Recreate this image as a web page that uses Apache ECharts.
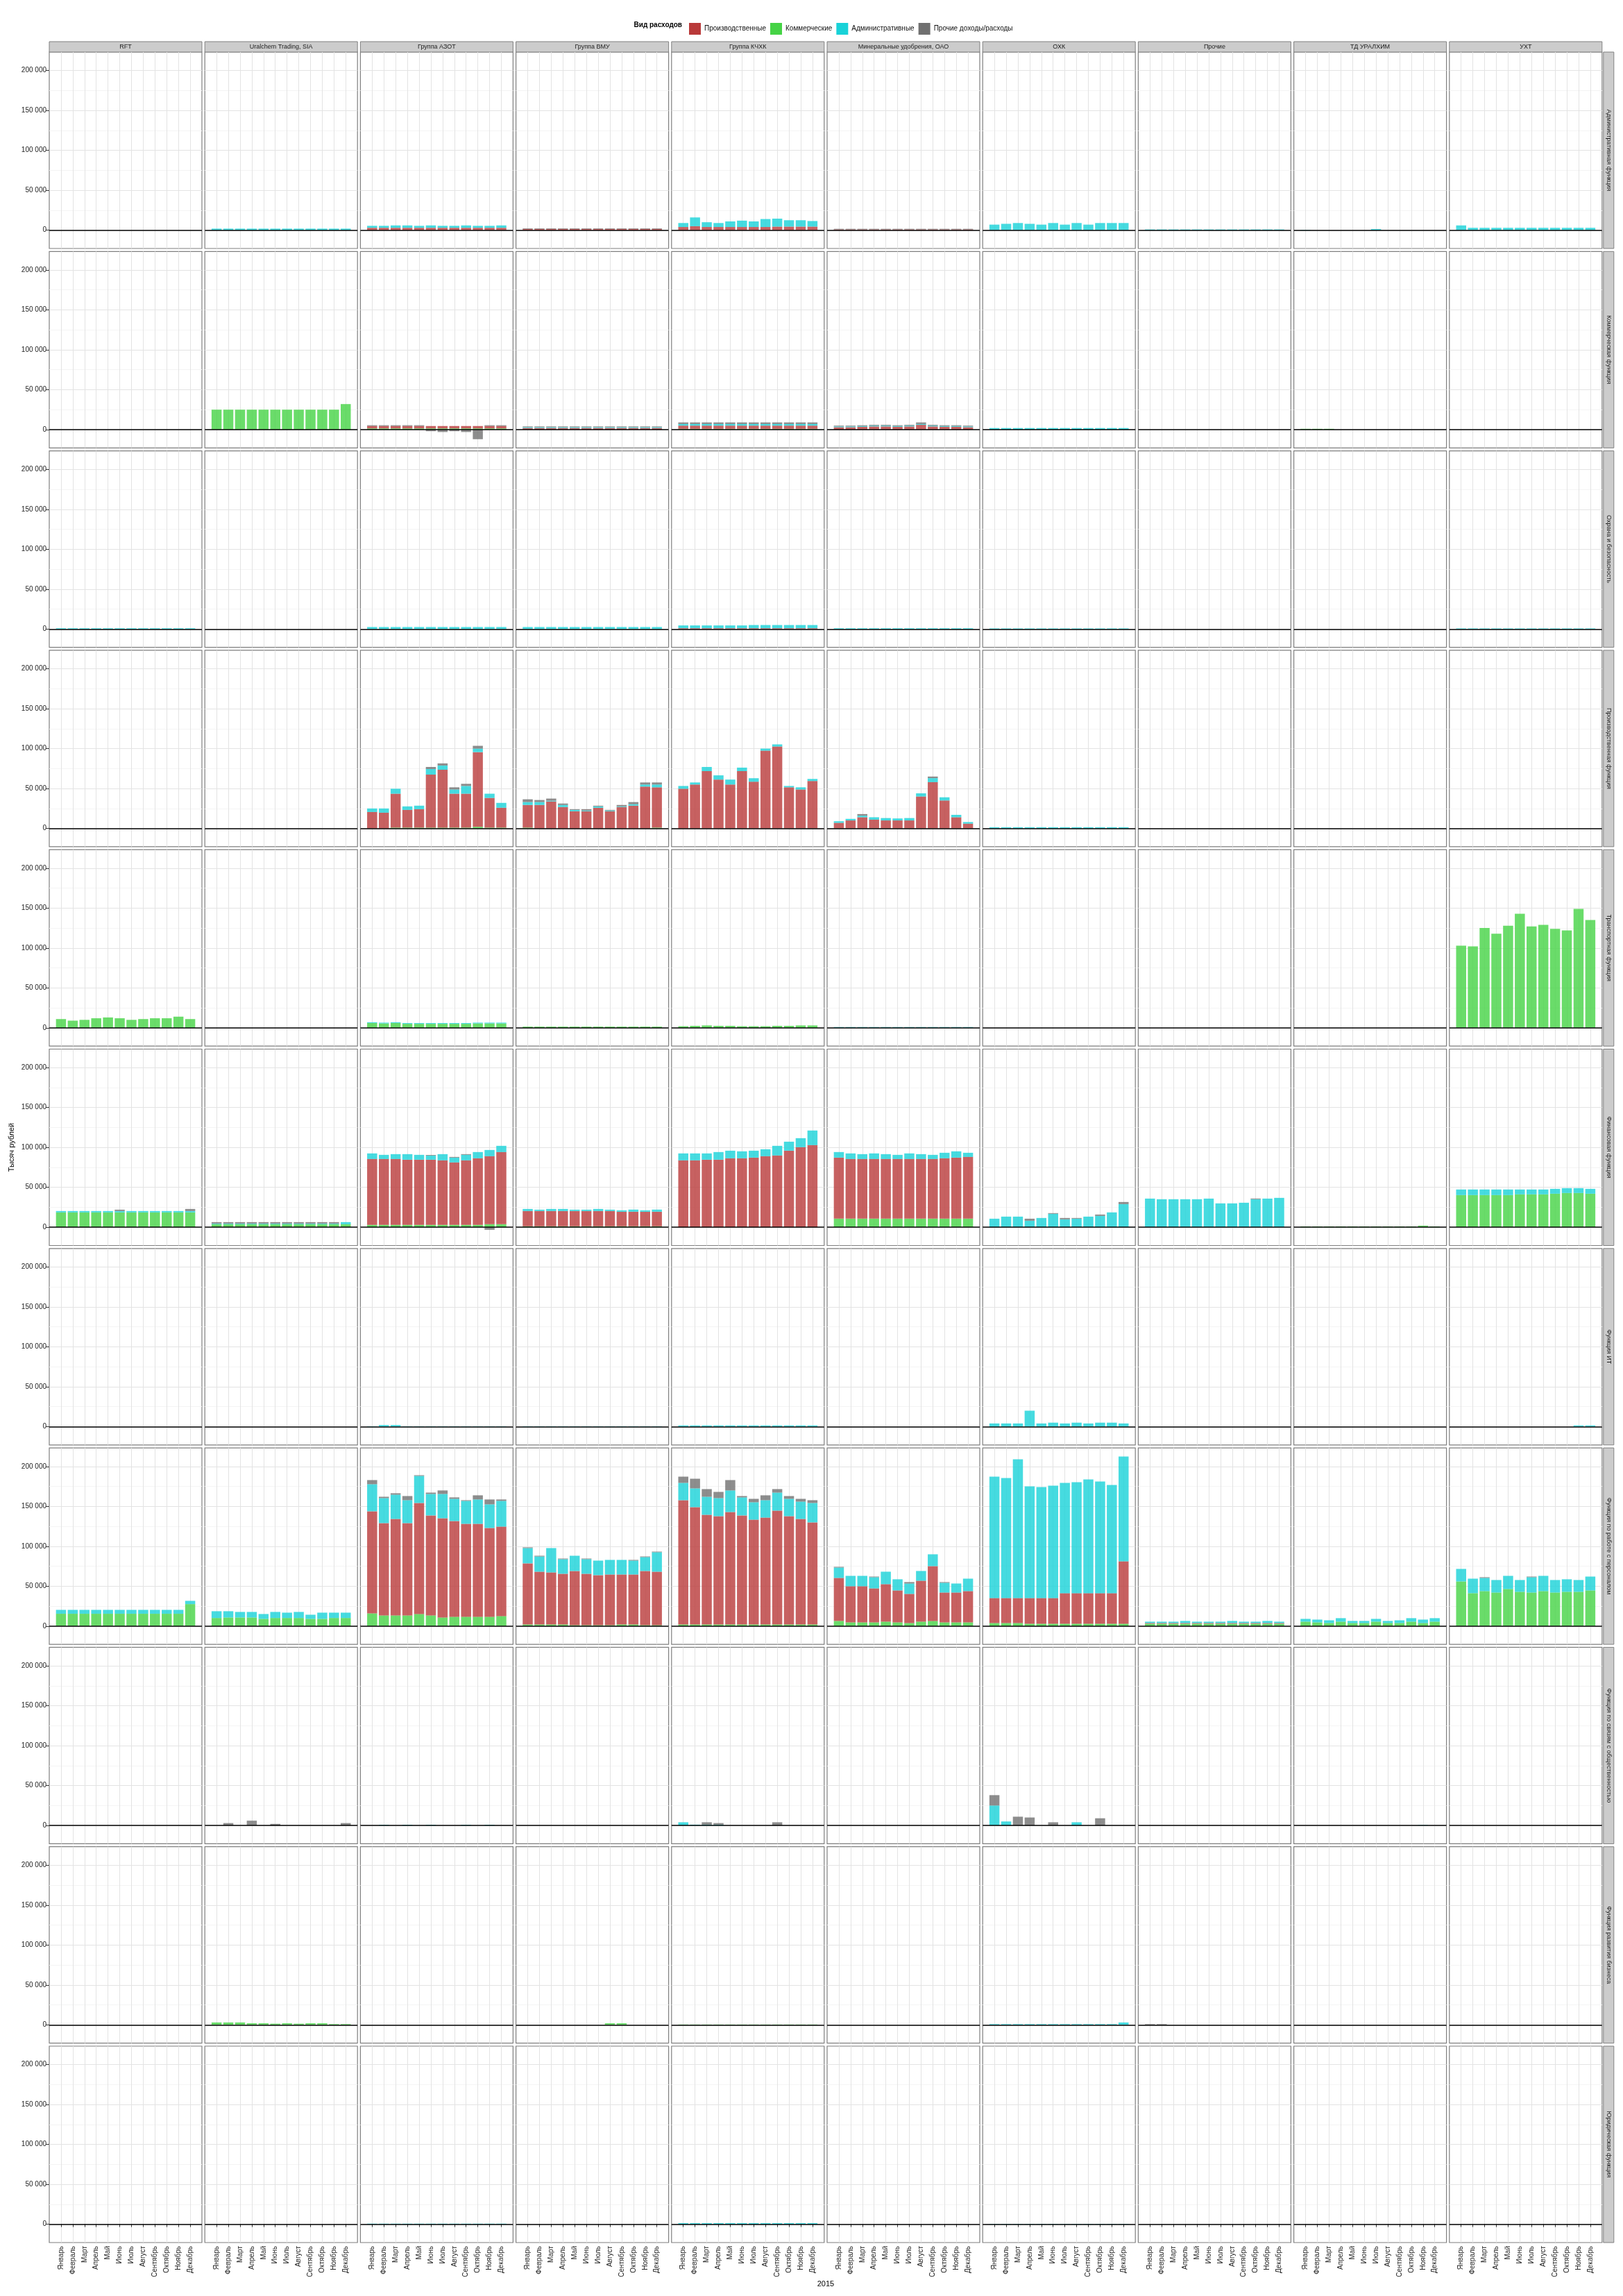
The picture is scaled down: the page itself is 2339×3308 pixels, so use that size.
<!DOCTYPE html>
<html><head><meta charset="utf-8">
<script src="https://cdn.jsdelivr.net/npm/echarts@6/dist/echarts.min.js"></script>
<style>html,body{margin:0;padding:0;background:#fff}#c{width:2339px;height:3308px}</style>
</head><body><div id="c"></div>
<script>
const months = ["Январь","Февраль","Март","Апрель","Май","Июнь","Июль","Август","Сентябрь","Октябрь","Ноябрь","Декабрь"];
const companies = ["RFT","Uralchem Trading, SIA","Группа АЗОТ","Группа ВМУ","Группа КЧХК","Минеральные удобрения, ОАО","ОХК","Прочие","ТД УРАЛХИМ","УХТ"];
const functions = ["Административная функция","Коммерческая функция","Охрана и безопасность","Производственная функция","Транспортная функция","Финансовая функция","Функция ИТ","Функция по работе с персоналом","Функция по связям с общественностью","Функция развития бизнеса","Юридическая функция"];
const expenseTypes = ["Производственные","Коммерческие","Административные","Прочие доходы/расходы"];
const yTicks = [0, 50000, 100000, 150000, 200000];
const yMinorTicks = [25000, 75000, 125000, 175000];
const legendTitle = "Вид расходов";
const yTitle = "Тысяч рублей";
const xTitle = "2015";

// keys: r = Производственные, g = Коммерческие, c = Административные, p = Прочие доходы/расходы
const fAdmin = {
  "Uralchem Trading, SIA": { c: [2000,2000,2000,2000,2000,2000,2000,2000,2000,2000,2000,2000] },
  "Группа АЗОТ": { r: [3000,3000,3000,3000,3000,3000,3000,3000,3000,3000,3000,3000], c: [2500,2500,3000,3000,2500,3000,2500,2500,3000,2500,2500,3000] },
  "Группа ВМУ": { r: [1500,1500,1500,1500,1500,1500,1500,1500,1500,1500,1500,1500], p: [800,800,800,800,800,800,800,800,800,800,800,800] },
  "Группа КЧХК": { r: [4000,5000,4000,4000,4000,4000,4000,4000,4500,4500,4500,4500], c: [5000,11000,6000,5000,7000,8000,7000,10000,10000,8000,8000,7000] },
  "Минеральные удобрения, ОАО": { r: [1000,1000,1000,1000,1000,1000,1000,1000,1000,1000,1000,1000], p: [800,800,800,800,800,800,800,800,800,800,800,800] },
  "ОХК": { c: [7000,8000,9000,8000,7000,9000,7000,9000,7000,9000,9000,9000] },
  "Прочие": { c: [1000,1000,1000,1000,1000,1000,1000,1000,1000,1000,1000,1000] },
  "ТД УРАЛХИМ": { c: [500,0,0,0,0,0,1500,0,0,0,0,0] },
  "УХТ": { c: [6000,3000,3000,3000,3000,3000,3000,3000,3000,3000,3000,3000] }
};
const fCommercial = {
  "Uralchem Trading, SIA": { g: [25000,25000,25000,25000,25000,25000,25000,25000,25000,25000,25000,32000] },
  "Группа АЗОТ": { g: [1500,1500,1500,1500,1500,1500,1500,1500,1500,1500,1500,1500], r: [3000,3000,3000,3000,3000,3000,3000,3000,3000,3000,3000,3000], p: [1000,1000,1000,1000,1000,-2000,-3000,-2000,-3000,-12000,1000,1000] },
  "Группа ВМУ": { r: [2000,2000,2000,2000,2000,2000,2000,2000,2000,2000,2000,2000], c: [1000,1000,1000,1000,1000,1000,1000,1000,1000,1000,1000,1000], p: [1000,1000,1000,1000,1000,1000,1000,1000,1000,1000,1000,1000] },
  "Группа КЧХК": { g: [1000,1000,1000,1000,1000,1000,1000,1000,1000,1000,1000,1000], r: [4000,4000,4000,4000,4000,4000,4000,4000,4000,4000,4000,4000], c: [2000,2000,2000,2000,2000,2000,2000,2000,2000,2000,2000,2000], p: [2000,2000,2000,2000,2000,2000,2000,2000,2000,2000,2000,2000] },
  "Минеральные удобрения, ОАО": { r: [3000,3000,3500,4000,4000,3500,4000,6000,4000,3500,3500,3000], c: [1000,1000,1000,1000,1000,1000,1000,1000,1000,1000,1000,1000], p: [1000,1000,1000,1000,1000,1000,1000,2000,1000,1000,1000,1000] },
  "ОХК": { c: [2000,2000,2000,2000,2000,2000,2000,2000,2000,2000,2000,2000] },
  "ТД УРАЛХИМ": { g: [1000,1000,1000,0,0,0,0,0,0,0,0,0] }
};
const fSecurity = {
  "RFT": { c: [1000,1000,1000,1000,1000,1000,1000,1000,1000,1000,1000,1000] },
  "Группа АЗОТ": { c: [2500,2500,2500,2500,2500,2500,2500,2500,2500,2500,2500,2500] },
  "Группа ВМУ": { c: [2500,2500,2500,2500,2500,2500,2500,2500,2500,2500,2500,2500] },
  "Группа КЧХК": { r: [1000,1000,1000,1000,1000,1000,1000,1000,1000,1000,1000,1000], c: [3500,3500,3500,3500,3500,3500,4000,4000,4000,4000,4000,4000] },
  "Минеральные удобрения, ОАО": { c: [1000,1000,1000,1000,1000,1000,1000,1000,1000,1000,1000,1000] },
  "ОХК": { c: [800,800,800,800,800,800,800,800,800,800,800,800] },
  "УХТ": { c: [800,800,800,800,800,800,800,800,800,800,800,800] }
};
const fProduction = {
  "Группа АЗОТ": { g: [0,0,1000,1000,1000,1000,1000,1000,1000,2000,1000,1000], r: [20600,19700,42500,22200,23100,66400,72500,42500,42500,93600,37200,24900], c: [4400,5300,6200,4400,4400,7000,5300,5300,9700,4400,5300,6100], p: [0,0,0,0,0,2600,2700,2700,2700,3500,0,0] },
  "Группа ВМУ": { g: [1000,0,0,0,0,0,0,0,0,0,0,1000], r: [28400,29400,33800,26800,21500,21500,25900,21500,26800,28500,52400,50500], c: [3600,3600,900,2600,1700,900,1700,900,800,1800,2600,3500], p: [3500,2600,2700,1800,900,1700,900,800,1800,2700,2600,2600] },
  "Группа КЧХК": { r: [49700,55000,71800,61200,55000,71800,58500,97400,102600,51500,48800,59400], c: [3500,2600,5200,5300,6200,4400,4400,2600,2700,1700,2700,2600] },
  "Минеральные удобрения, ОАО": { r: [7000,10000,14000,11000,10000,10000,10000,40000,58000,35000,14000,6000], c: [2000,2000,2000,3000,3000,2500,3000,4000,5000,4000,3000,2000], p: [0,0,2000,0,0,0,0,0,2000,0,0,0] },
  "ОХК": { c: [1500,1500,1500,1500,1500,1500,1500,1500,1500,1500,1500,1500] }
};
const fTransport = {
  "RFT": { g: [11000,9000,10000,12000,13000,12000,10000,11000,12000,12000,14000,11000] },
  "Группа АЗОТ": { g: [6000,5500,6000,5000,5000,5000,5000,5000,5000,5500,5500,5500], c: [1000,1000,1000,1000,1000,1000,1000,1000,1000,1000,1000,1000] },
  "Группа ВМУ": { g: [1500,1500,1500,1500,1500,1500,1500,1500,1500,1500,1500,1500] },
  "Группа КЧХК": { g: [2000,2500,3000,2500,2500,2000,2000,2000,2500,2500,3000,3000] },
  "Минеральные удобрения, ОАО": { c: [1000,1000,1000,1000,1000,1000,1000,1000,1000,1000,1000,1000] },
  "УХТ": { g: [103000,102000,125000,118000,128000,143000,127000,129000,124000,122000,149000,135000] }
};
const fFinance = {
  "RFT": { g: [18600,18600,18600,18600,18600,18600,18600,18600,18600,18600,18600,18600], c: [1700,1700,1700,1700,1700,1700,1700,1700,1700,1700,1700,1700], p: [0,0,0,0,0,1700,0,0,0,0,0,2600] },
  "Uralchem Trading, SIA": { g: [3800,3800,3800,3800,3800,3800,3800,3800,3800,3800,3800,3800], c: [800,800,800,800,800,800,800,800,800,800,800,2600], p: [1800,1800,1800,1800,1800,1800,1800,1800,1800,1800,1800,0] },
  "Группа АЗОТ": { g: [2900,2900,2900,2900,2900,2900,2900,2900,2900,2900,3800,3800], r: [82600,82600,82600,81700,81700,81700,80900,78300,80900,83500,85200,90400], c: [7000,5200,6100,7000,6100,5200,7800,6000,6900,7800,7800,7800], p: [0,0,0,0,0,800,0,900,900,0,-3200,0] },
  "Группа ВМУ": { g: [1200,1200,1200,1200,1200,1200,1200,1200,1200,1200,1200,1200], r: [19100,19100,19100,19100,19100,19100,19100,19100,18200,18200,18200,18200], c: [2600,1700,2600,2600,1700,1700,2600,1700,1800,2700,1800,2700] },
  "Группа КЧХК": { r: [83800,83800,84600,84600,86400,86400,87200,89000,89900,95900,100300,102900], c: [8700,8700,7900,9600,9500,8700,8700,8700,12100,11300,11300,18300] },
  "Минеральные удобрения, ОАО": { g: [10700,10700,10700,10700,10700,10700,10700,10700,10700,10700,10700,10700], r: [76500,74800,74800,74800,74800,74800,74800,74800,74800,75700,76500,77400], c: [7000,7000,6100,7000,6100,5200,7000,6100,5200,6900,7900,5200] },
  "ОХК": { c: [10700,13300,13300,8100,11600,16800,9900,10700,13300,14200,18600,29000], p: [0,0,0,2600,0,900,1700,900,0,1700,0,2600] },
  "Прочие": { c: [35900,35100,35100,35100,35100,35900,29900,29900,30700,35100,35900,36800], p: [0,0,0,0,0,0,0,0,0,900,0,0] },
  "ТД УРАЛХИМ": { g: [1000,1000,1000,1000,1000,1000,1000,1000,1000,1000,2000,1000] },
  "УХТ": { g: [40300,40300,40300,40300,40300,41200,41200,41200,42000,42900,42900,42000], c: [7000,7000,7000,7000,7000,6100,6100,6100,6100,6100,6100,6100] }
};
const fIT = {
  "Группа АЗОТ": { c: [500,2000,2000,500,500,500,500,500,500,500,500,500] },
  "Группа ВМУ": { c: [500,500,500,500,500,500,500,500,500,500,500,500] },
  "Группа КЧХК": { c: [1500,1500,1500,1500,1500,1500,1500,1500,1500,1500,1500,1500] },
  "ОХК": { c: [4000,4000,4000,20000,4000,5000,4000,5000,4000,5000,5000,4000] },
  "УХТ": { c: [0,0,0,0,0,0,0,0,0,0,1500,1500] }
};
const fPersonnel = {
  "RFT": { g: [15400,15400,15400,15400,15400,15400,15400,15400,15400,15400,15400,27500], c: [4900,4900,4900,4900,4900,4900,4900,4900,4900,4900,4900,4100] },
  "Uralchem Trading, SIA": { g: [10100,10700,10700,10700,9000,10100,10100,10100,9000,9000,10100,10100], c: [8500,7900,7000,7000,6100,7600,6700,7600,5200,7800,6700,6700] },
  "Группа АЗОТ": { g: [15900,13300,13300,13300,15100,13300,10700,11600,11600,11600,11600,12500], r: [127900,115700,120900,115700,139100,125300,124400,120000,116500,116500,111300,112100], c: [33900,31300,30400,28700,33900,26900,30400,27800,28700,30500,29600,32200], p: [5200,1700,1800,5200,900,1700,4400,1800,900,5200,6100,1800] },
  "Группа ВМУ": { g: [2000,2000,2000,2000,1200,1200,1200,1200,2000,2000,1200,1200], r: [76600,66100,65200,63500,67800,64300,62600,63400,62600,62600,67800,66900], c: [19100,19100,30500,18300,19100,18300,18200,18300,18300,17400,17400,24400], p: [900,900,0,800,0,800,0,0,0,900,800,800] },
  "Группа КЧХК": { g: [2000,2000,2000,2000,2000,2000,2000,2000,2000,2000,2000,2000], r: [155700,147000,137400,135700,140900,136600,131300,133900,142600,135700,132200,127900], c: [21700,23500,22600,22600,27000,22600,21800,21800,22600,21700,21700,24300], p: [7800,12100,9600,7800,13000,1700,4300,6100,4400,3500,3500,3500] },
  "Минеральные удобрения, ОАО": { g: [6400,4600,4600,4600,5500,4600,3800,5500,6400,4600,4600,4600], r: [53900,45300,45300,42600,47000,40000,36500,51300,68700,37400,37400,39200], c: [13000,13000,13000,14000,15600,14000,13000,12200,14800,12200,11300,15600], p: [900,0,0,800,0,0,1800,0,0,900,0,0] },
  "ОХК": { g: [3800,3800,3800,2900,2900,2900,2900,2900,2900,2900,2900,2900], r: [31300,31300,31300,32200,32200,32200,38300,38300,38300,38300,38300,78300], c: [152100,150400,173900,140000,139100,140800,138200,139100,142600,140000,135600,131300] },
  "Прочие": { g: [2900,2900,2900,2900,2900,2900,2900,2900,2900,2900,2900,2900], r: [900,900,900,900,900,900,900,900,900,900,900,900], c: [1700,1700,1700,2600,1700,1700,1700,2600,1700,1700,2600,1700] },
  "ТД УРАЛХИМ": { g: [5500,4600,3800,5500,3800,3800,5500,3800,3800,5500,3800,5500], c: [3500,3500,3400,4400,2600,2600,3500,2600,3400,4400,4300,4400] },
  "УХТ": { g: [55900,41200,43800,42000,46400,42900,42000,43800,42000,42900,42900,44600], c: [15700,18200,16500,15700,16500,14800,19200,19100,15700,15700,14800,17400], p: [0,0,900,0,0,0,800,0,0,0,0,0] }
};
const fPR = {
  "Uralchem Trading, SIA": { p: [0,3000,0,6000,0,2000,0,0,0,0,0,3000] },
  "Группа АЗОТ": { c: [0,800,0,800,0,800,0,0,800,0,800,0] },
  "Группа КЧХК": { c: [4000,1000,1000,1000,0,0,0,0,0,0,0,0], p: [0,0,3000,2000,0,0,0,0,4000,0,0,0] },
  "ОХК": { c: [25000,5000,0,0,0,0,0,4000,0,0,0,0], p: [13000,0,11000,10000,0,4000,0,0,0,9000,0,0] },
  "ТД УРАЛХИМ": { c: [0,0,0,0,0,0,0,0,0,0,500,0] }
};
const fBD = {
  "Uralchem Trading, SIA": { g: [3000,3000,3000,2000,2000,1500,2000,1500,2000,2000,1000,1000] },
  "Группа ВМУ": { g: [0,0,0,0,0,0,0,2000,2000,0,0,0] },
  "Группа КЧХК": { g: [500,500,500,500,500,500,500,500,500,500,500,500] },
  "ОХК": { c: [1000,1000,1000,1000,1000,1000,1000,1000,1000,1000,1000,3000] },
  "Прочие": { p: [1000,1000,0,0,0,0,0,0,0,0,0,0] }
};
const fLegal = {
  "Группа АЗОТ": { c: [800,800,800,800,800,800,800,800,800,800,800,800] },
  "Группа КЧХК": { c: [1500,1500,1500,1500,1500,1500,1500,1500,1500,1500,1500,1500] },
  "ОХК": { c: [500,500,500,500,500,500,500,500,500,500,500,500] }
};
const functionData = [fAdmin, fCommercial, fSecurity, fProduction, fTransport, fFinance, fIT, fPersonnel, fPR, fBD, fLegal];

const FONT = "'Liberation Sans', Arial, sans-serif";
const barColors = { r: '#B93939', g: '#45D345', c: '#18D2D8', p: '#707070' };
const stackOrder = [['g', 1], ['r', 0], ['c', 2], ['p', 3]];
const L0 = 71, T0 = 75, PX = 224.2, PY = 287.3, W = 220, H = 283;
const Y_MIN = -22900, Y_MAX = 223200;
const fmt = v => String(v).replace(/\B(?=(\d{3})+(?!\d))/g, ' ');
const pad = a => { const out = [null]; for (let i = 0; i < 12; i++) out.push(a && a[i] ? a[i] : null); out.push(null); return out; };
const inner = i => i > 0 && i < 13;

const grids = [], xAxes = [], yAxes = [], series = [], graphics = [];
const nRows = functionData.length;
functionData.forEach((fd, ri) => {
  companies.forEach((co, ci) => {
    const k = ri * companies.length + ci;
    const left = L0 + ci * PX, top = T0 + ri * PY;
    const isBottom = ri === nRows - 1, isFirst = ci === 0;
    grids.push({ left, top, width: W, height: H, show: true, backgroundColor: '#fff', borderColor: '#7F7F7F', borderWidth: 1.2 });
    xAxes.push({
      type: 'category', gridIndex: k, data: ['', ...months, ''], boundaryGap: false,
      axisLine: { show: false },
      axisTick: { show: isBottom, interval: inner, length: 4, lineStyle: { color: '#333' } },
      axisLabel: { show: isBottom, interval: 0, rotate: 90, fontSize: 10, color: '#222', margin: 5, fontFamily: FONT },
      splitLine: { show: true, interval: inner, lineStyle: { color: '#E3E3E3', width: 1 } }
    });
    yAxes.push({
      type: 'value', gridIndex: k, min: Y_MIN, max: Y_MAX, position: 'left',
      axisLine: { show: false },
      axisTick: { show: isFirst, customValues: yTicks, length: 5, lineStyle: { color: '#333' } },
      axisLabel: { show: isFirst, customValues: yTicks, formatter: fmt, fontSize: 10, color: '#222', margin: 4, fontFamily: FONT },
      splitLine: { show: true, lineStyle: { color: '#E3E3E3', width: 1 } }
    });
    yAxes.push({
      type: 'value', gridIndex: k, min: Y_MIN, max: Y_MAX, position: 'right',
      axisLine: { show: false },
      axisTick: { show: false, customValues: yMinorTicks },
      axisLabel: { show: false, customValues: yMinorTicks },
      splitLine: { show: true, lineStyle: { color: '#F4F4F4', width: 1 } }
    });
    const cd = fd[co] || {};
    stackOrder.forEach(([key, ti], si) => {
      const s = {
        type: 'bar', name: expenseTypes[ti], xAxisIndex: k, yAxisIndex: 2 * k, stack: 'st' + k,
        data: pad(cd[key]), barWidth: 14.5, silent: true,
        itemStyle: { color: barColors[key], opacity: 0.8 }
      };
      if (si === 0) {
        s.markLine = { silent: true, symbol: 'none', label: { show: false }, animation: false,
          lineStyle: { color: '#000', width: 1.5, type: 'solid' }, data: [{ yAxis: 0 }] };
      }
      series.push(s);
    });
    if (ri === 0) {
      graphics.push({ type: 'rect', shape: { x: left, y: 60, width: W, height: 15 }, style: { fill: '#CCCCCC', stroke: '#7F7F7F', lineWidth: 1 } });
      graphics.push({ type: 'text', x: left + W / 2, y: 67.5, style: { text: co, fill: '#1A1A1A', font: '9px ' + FONT, align: 'center', verticalAlign: 'middle', textAlign: 'center', textVerticalAlign: 'middle' } });
    }
  });
  const top = T0 + ri * PY;
  const sx = L0 + (companies.length - 1) * PX + W + 2;
  graphics.push({ type: 'rect', shape: { x: sx, y: top, width: 15, height: H }, style: { fill: '#CCCCCC', stroke: '#7F7F7F', lineWidth: 1 } });
  graphics.push({ type: 'text', x: sx + 7.5, y: top + H / 2, rotation: -Math.PI / 2, style: { text: functions[ri], fill: '#1A1A1A', font: '9px ' + FONT, align: 'center', verticalAlign: 'middle', textAlign: 'center', textVerticalAlign: 'middle' } });
});
const panelsBottom = T0 + (nRows - 1) * PY + H;
graphics.push({ type: 'text', x: 17, y: (T0 + panelsBottom) / 2, rotation: Math.PI / 2, style: { text: yTitle, fill: '#000', font: '11px ' + FONT, align: 'center', verticalAlign: 'middle', textAlign: 'center', textVerticalAlign: 'middle' } });
graphics.push({ type: 'text', x: (L0 + L0 + (companies.length - 1) * PX + W) / 2, y: 3291, style: { text: xTitle, fill: '#000', font: '11px ' + FONT, align: 'center', verticalAlign: 'middle', textAlign: 'center', textVerticalAlign: 'middle' } });
graphics.push({ type: 'text', x: 983, y: 36.5, style: { text: legendTitle, fill: '#000', font: 'bold 10px ' + FONT, align: 'right', verticalAlign: 'middle', textAlign: 'right', textVerticalAlign: 'middle' } });

const legendColors = ['#B93939', '#45D345', '#18D2D8', '#707070'];
const chart = echarts.init(document.getElementById('c'), null, { renderer: 'canvas' });
chart.setOption({
  backgroundColor: '#fff',
  animation: false,
  textStyle: { fontFamily: FONT },
  legend: {
    top: 28, left: 988, itemWidth: 17, itemHeight: 17, itemGap: 6, icon: 'rect', selectedMode: false,
    textStyle: { fontSize: 10, color: '#111', fontFamily: FONT },
    data: expenseTypes.map((n, i) => ({ name: n, itemStyle: { color: legendColors[i], opacity: 1 } }))
  },
  grid: grids, xAxis: xAxes, yAxis: yAxes, series,
  graphic: { elements: graphics }
});
</script></body></html>
